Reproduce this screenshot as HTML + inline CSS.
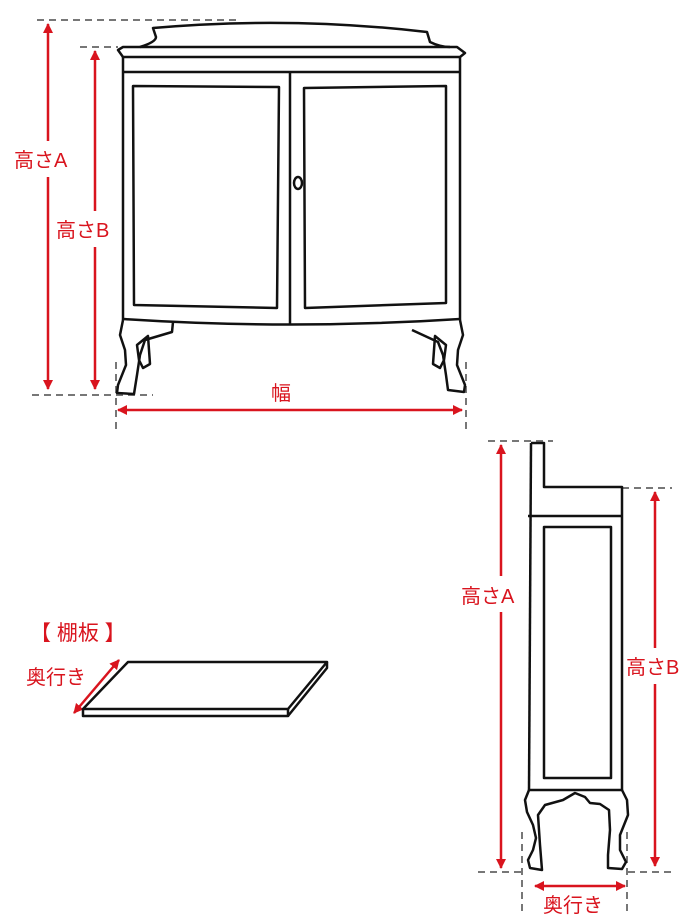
<!DOCTYPE html>
<html><head><meta charset="utf-8"><style>
html,body{margin:0;padding:0;background:#fff}
svg{display:block}
text{font-family:"Liberation Sans","Noto Sans CJK JP",sans-serif;fill:#d9141e;font-size:20px}
</style></head><body>
<svg width="690" height="920" viewBox="0 0 690 920" xmlns="http://www.w3.org/2000/svg">
<defs>
<marker id="ah" markerWidth="10" markerHeight="10" refX="9" refY="5" orient="auto-start-reverse" markerUnits="userSpaceOnUse">
<path d="M0,0 L10,5 L0,10 Z" fill="#d9141e"/></marker>
</defs>
<g stroke="#777" stroke-width="2" stroke-dasharray="7,5" fill="none">
<line x1="37" y1="20" x2="240" y2="20"/>
<line x1="80" y1="47" x2="118" y2="47"/>
<line x1="32" y1="395" x2="153" y2="395"/>
<line x1="116" y1="362" x2="116" y2="432"/>
<line x1="466" y1="362" x2="466" y2="432"/>
<line x1="488" y1="441" x2="553" y2="441"/>
<line x1="622" y1="488" x2="672" y2="488"/>
<line x1="478" y1="872" x2="523" y2="872"/>
<line x1="628" y1="872" x2="675" y2="872"/>
<line x1="522" y1="832" x2="522" y2="915"/>
<line x1="627" y1="832" x2="627" y2="915"/>
</g>
<g stroke="#111" stroke-width="2.5" fill="none" stroke-linejoin="round">
<path d="M140,47 Q156,42 156,37 L153,28 Q290,16 427,32 L430,42 Q440,47 450,47"/>
<path d="M123,47 L457,47 L465,53 L460,57 L123,57 L118,50 Z"/>
<line x1="123" y1="72" x2="460" y2="72"/>
<line x1="123" y1="57" x2="123" y2="320"/>
<line x1="460" y1="57" x2="460" y2="320"/>
<line x1="290" y1="72" x2="290" y2="325"/>
<path d="M133,86 L279,87 L277,308 L134,305 Z"/>
<path d="M304,88 L446,86 L446,303 L305,308 Z"/>
<path d="M123,319 Q290,330 460,319"/>
<ellipse cx="298" cy="183" rx="4" ry="6"/>
<path d="M123,320 L120,335 L125,350 L126,365 L118,385 L117,393 L134,394 L137,375 L140,355 L145,340 L172,332 L173,322"/>
<path d="M137,345 L148,336 L150,364 L143,368 L139,360 Z"/>
<path d="M460,320 L463,335 L458,350 L457,365 L465,385 L464,392 L448,390 L446,375 L443,355 L438,342 L412,330"/>
<path d="M446,345 L435,336 L433,364 L440,368 L444,360 Z"/>
</g>
<g stroke="#d9141e" stroke-width="2.5" fill="none">
<line x1="48" y1="24" x2="48" y2="141" marker-start="url(#ah)"/>
<line x1="48" y1="177" x2="48" y2="389" marker-end="url(#ah)"/>
<line x1="95" y1="51" x2="95" y2="211" marker-start="url(#ah)"/>
<line x1="95" y1="247" x2="95" y2="389" marker-end="url(#ah)"/>
<line x1="118" y1="410" x2="462" y2="410" marker-start="url(#ah)" marker-end="url(#ah)"/>
<line x1="535" y1="886" x2="625" y2="886" marker-start="url(#ah)" marker-end="url(#ah)"/>
<line x1="501" y1="445" x2="501" y2="576" marker-start="url(#ah)"/>
<line x1="501" y1="612" x2="501" y2="868" marker-end="url(#ah)"/>
<line x1="655" y1="492" x2="655" y2="648" marker-start="url(#ah)"/>
<line x1="655" y1="684" x2="655" y2="866" marker-end="url(#ah)"/>
<line x1="74" y1="713" x2="119" y2="660" marker-start="url(#ah)" marker-end="url(#ah)"/>
</g>
<text x="14" y="167">高さA</text>
<text x="56" y="237">高さB</text>
<text x="271" y="400">幅</text>
<text x="461" y="603">高さA</text>
<text x="626" y="674">高さB</text>
<text x="543" y="912">奥行き</text>
<text x="30" y="640" style="font-size:21px">【 棚板 】</text>
<text x="26" y="684">奥行き</text>
<g stroke="#111" stroke-width="2.5" fill="none" stroke-linejoin="round">
<path d="M531,443 L544,443 L544,487 L622,487 L622,790"/>
<line x1="531" y1="443" x2="529" y2="790"/>
<line x1="528" y1="516" x2="622" y2="516"/>
<rect x="544" y="527" width="67" height="251"/>
<line x1="529" y1="790" x2="622" y2="790"/>
<path d="M529,790 L525,800 L527,812 L533,825 L536,838 L533,850 L528,860 L530,868 L542,870 L540,845 L538,815 L545,805 L563,800 L575,793 L585,797 L590,803 L600,804 L609,810 L610,830 L608,855 L608,868 L622,869 L626,862 L620,850 L620,835 L628,815 L627,800 L622,790"/>
</g>
<g stroke="#111" stroke-width="2.5" fill="none" stroke-linejoin="round">
<path d="M128,662 L327,662 L288,709 L83,709 Z"/>
<path d="M83,709 L83,716 L288,716 L288,709"/>
<path d="M327,662 L327,668 L288,716"/>
</g>
</svg>
</body></html>
